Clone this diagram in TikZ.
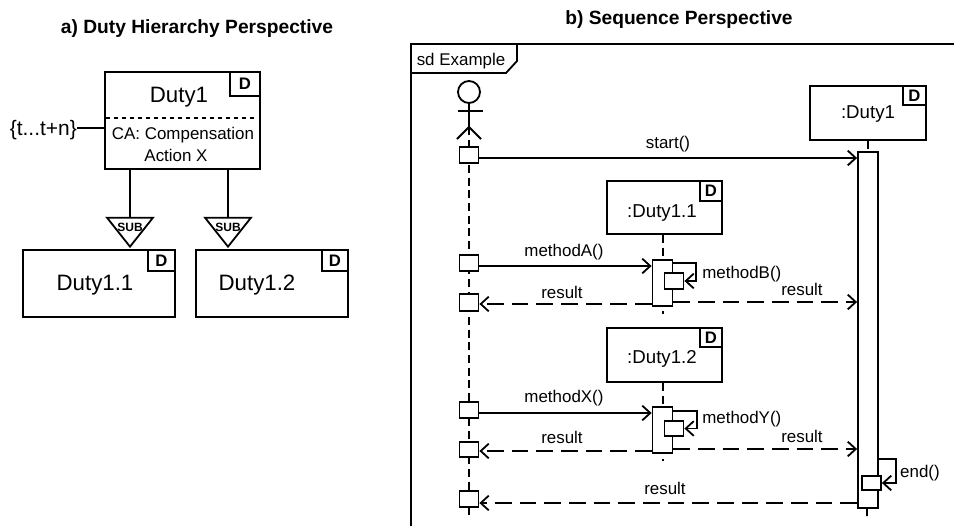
\documentclass[tikz,border=0pt]{standalone}
\usepackage{fontspec}
\setmainfont{Liberation Sans}
\usepackage{tikz}
\usetikzlibrary{arrows.meta,positioning,shapes.geometric}
\tikzset{
  line/.style={line width=1.35pt},
  dutybox/.style={line, draw, fill=white, inner sep=0pt},
  dtag/.style={dutybox, font=\bfseries\fontsize{12.5}{14}\selectfont},
  square/.style={dutybox, minimum width=14.25pt, minimum height=11.5pt},
  bar/.style={dutybox, minimum width=15pt},
  subtri/.style={line, draw, fill=white, isosceles triangle, isosceles triangle stretches, shape border rotate=-90, inner sep=0pt, minimum width=34.5pt, minimum height=21.75pt, anchor=apex},
  subtxt/.style={inner sep=0pt, font=\bfseries\fontsize{9}{10}\selectfont},
  bigtxt/.style={inner sep=0pt, font=\fontsize{16.7}{19}\selectfont},
  midtxt/.style={inner sep=0pt, font=\fontsize{14}{16}\selectfont},
  txt/.style={inner sep=0pt, font=\fontsize{12.7}{15}\selectfont},
  head/.style={inner sep=0pt, font=\bfseries\fontsize{14.4}{17}\selectfont},
  lifeline/.style={line, dash pattern=on 6pt off 3.5pt},
  msg/.style={line, -{Straight Barb[length=6pt,width=11pt]}},
  reply/.style={msg, dash pattern=on 12.5pt off 6pt},
}
\begin{document}
\begin{tikzpicture}[x=0.75pt,y=-0.75pt]
\useasboundingbox (0,0) rectangle (954,526);
    \node (headA) [head] at (197,29) {a) Duty Hierarchy Perspective};
    \node (headB) [head] at (679,20) {b) Sequence Perspective};

    \node (duty1) [dutybox, minimum width=116.25pt, minimum height=72.75pt] at (182.5,120.5) {};
    \node (duty1D) [dtag, minimum width=22.5pt, minimum height=18pt, below left=0pt of duty1.north east] {D};
    \node (duty1T) [bigtxt] at (179,97) {Duty1};
    \coordinate (splitL) at (106,118);
    \coordinate (splitR) at (257,118);
    \draw[line, dashed] (splitL) -- (splitR);
    \node (comp) [txt] at (183,135) {CA: Compensation};
    \node (actX) [txt] at (176,155) {Action X};
    \node (time) [inner sep=0pt, font=\fontsize{15.7}{18}\selectfont, anchor=east] at (77,130) {\{t...t+n\}};
    \coordinate (timeL) at (77,128);
    \draw[line] (timeL) -- (duty1.west |- timeL);

    \node (sub1) [subtri] at (130,249) {};
    \node (sub2) [subtri] at (228,249) {};
    \node (sub1T) [subtxt] at (130,227) {SUB};
    \node (sub2T) [subtxt] at (228,227) {SUB};
    \draw[line] (duty1.south -| sub1.apex) -- (sub1.lower side);
    \draw[line] (duty1.south -| sub2.apex) -- (sub2.lower side);

    \node (duty11) [dutybox, minimum width=114pt, minimum height=50.25pt] at (99,283.5) {};
    \node (duty11D) [dtag, minimum width=20.25pt, minimum height=15.75pt, below left=0pt of duty11.north east] {D};
    \node (duty11T) [bigtxt] at (95,285) {Duty1.1};
    \node (duty12) [dutybox, minimum width=114pt, minimum height=50.25pt] at (272,283.5) {};
    \node (duty12D) [dtag, minimum width=19.5pt, minimum height=15.75pt, below left=0pt of duty12.north east] {D};
    \node (duty12T) [bigtxt] at (257,285) {Duty1.2};

    \coordinate (frameB) at (411,526);
    \coordinate (frameT) at (411,44);
    \coordinate (frameR) at (954,44);
    \draw[line width=1.5pt] (frameB) -- (frameT) -- (frameR);
    \coordinate (tagA) at (517,44);
    \coordinate (tagB) at (517,61);
    \coordinate (tagC) at (506,73);
    \coordinate (tagD) at (411,73);
    \draw[line] (tagA) -- (tagB) -- (tagC) -- (tagD);
    \node (tag) [txt] at (461,61) {sd Example};

    % lifelines go first, the boxes sit on top
    \coordinate (endU) at (469,517);
    \coordinate (endP) at (663,314);
    \coordinate (endQ) at (663,461);
    \coordinate (endD) at (867,518);
    \node (user) [line, draw, circle, inner sep=0pt, minimum size=16.5pt] at (469,92) {};
    \coordinate (hip) at (469,127);
    \coordinate (armL) at (458,111);
    \coordinate (armR) at (483,111);
    \coordinate (legL) at (457,139);
    \coordinate (legR) at (481,139);
    \draw[line] (user.south) -- (hip);
    \draw[line] (armL) -- (armR);
    \draw[line] (legL) -- (hip) -- (legR);
    \draw[lifeline] (hip) -- (endU);

    \node (obj1) [dutybox, minimum width=87pt, minimum height=40.5pt] at (868,113) {};
    \node (obj1D) [dtag, minimum width=17.25pt, minimum height=14.25pt, below left=0pt of obj1.north east] {D};
    \node (obj1T) [midtxt] at (868,114) {:Duty1};
    \draw[lifeline] (obj1.south) -- (endD);
    \node (bar1) [bar, minimum height=267pt] at (868,330) {};

    \node (objP) [dutybox, minimum width=86.25pt, minimum height=39.75pt] at (664.5,207.5) {};
    \node (objPD) [dtag, minimum width=16.5pt, minimum height=15pt, below left=0pt of objP.north east] {D};
    \node (objPT) [midtxt] at (662,213) {:Duty1.1};
    \draw[lifeline] (objP.south -| endP) -- (endP);
    \node (barP) [bar, minimum height=34.5pt] at (662.5,283) {};
    \node (callP) [square, minimum height=12pt] at (674,281) {};

    \node (objQ) [dutybox, minimum width=86.25pt, minimum height=40.5pt] at (664.5,355) {};
    \node (objQD) [dtag, minimum width=16.5pt, minimum height=14.25pt, below left=0pt of objQ.north east] {D};
    \node (objQT) [midtxt] at (662,359) {:Duty1.2};
    \draw[lifeline] (objQ.south -| endQ) -- (endQ);
    \node (barQ) [bar, minimum height=34.5pt] at (662.5,430) {};
    \node (callQ) [square, minimum height=11.25pt] at (674,428.5) {};

    \node (callE) [square, minimum height=10.5pt] at (871.5,483) {};

    \node (sq1) [square] at (469,155) {};
    \node (sqA) [square] at (469,263) {};
    \node (sqB) [square, minimum height=12.5pt] at (469,302.5) {};
    \node (sqX) [square] at (469,410) {};
    \node (sqY) [square] at (469,449.5) {};
    \node (sqZ) [square] at (469,499) {};

    % messages: the coordinate gives the height of the line
    \coordinate (m1) at (668,158);
    \coordinate (mA) at (564,266);
    \coordinate (rA) at (562,304);
    \coordinate (sA) at (802,302);
    \coordinate (mX) at (564,413);
    \coordinate (rX) at (562,451);
    \coordinate (sX) at (802,449);
    \coordinate (rZ) at (665,503);
    \draw[msg] (sq1.east |- m1) -- (bar1.west |- m1);
    \draw[msg] (sqA.east |- mA) -- (barP.west |- mA);
    \draw[reply] (barP.west |- rA) -- (sqB.east |- rA);
    \draw[reply] (barP.east |- sA) -- (bar1.west |- sA);
    \draw[msg] (sqX.east |- mX) -- (barQ.west |- mX);
    \draw[reply] (barQ.west |- rX) -- (sqY.east |- rX);
    \draw[reply] (barQ.east |- sX) -- (bar1.west |- sX);
    \draw[reply] (bar1.west |- rZ) -- (sqZ.east |- rZ);

    \coordinate (loopP) at (696,263);
    \coordinate (loopQ) at (697,411);
    \coordinate (loopE) at (896,459);
    \draw[msg] (barP.east |- loopP) -- (loopP) |- (callP.east);
    \draw[msg] (barQ.east |- loopQ) -- (loopQ) |- (callQ.east);
    \draw[msg] (bar1.east |- loopE) -- (loopE) |- (callE.east);

    \node (l1) [txt, above=4.5pt of m1] {start()};
    \node (lA) [txt, above=4.5pt of mA] {methodA()};
    \node (lRA) [txt, above=4pt of rA] {result};
    \node (lSA) [txt, above=4.5pt of sA] {result};
    \node (lX) [txt, above=5pt of mX] {methodX()};
    \node (lRX) [txt, above=5.5pt of rX] {result};
    \node (lSX) [txt, above=4.5pt of sX] {result};
    \node (lRZ) [txt, above=6pt of rZ] {result};
    \node (lB) [txt, anchor=west] at (702,274) {methodB()};
    \node (lY) [txt, anchor=west] at (702,419) {methodY()};
    \node (lE) [txt] at (920,473) {end()};
\end{tikzpicture}
\end{document}
